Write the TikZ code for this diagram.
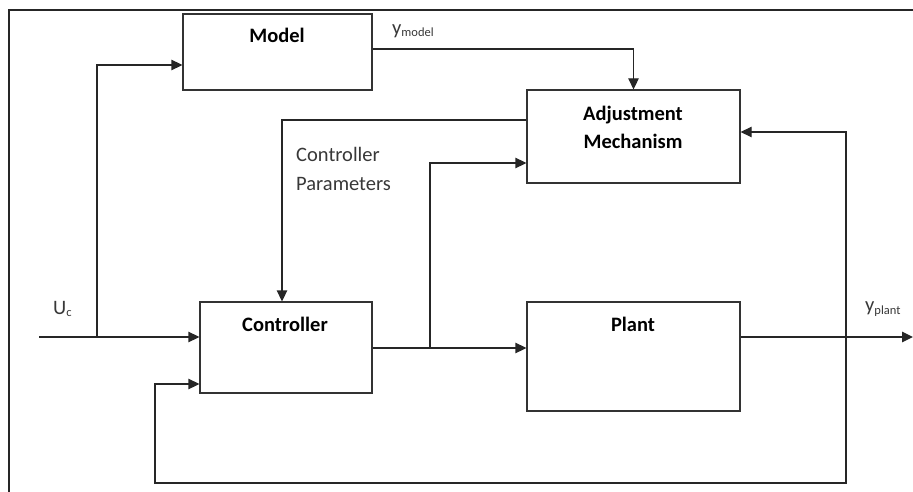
\documentclass[tikz,border=0pt]{standalone}
\usepackage{fontspec}
\setmainfont{Carlito}
\usetikzlibrary{calc,arrows.meta}
\tikzset{
  box/.style={draw=black!80, line width=1.3pt, fill=white, inner sep=0pt},
  arr/.style={draw=black!85, line width=1.3pt, -{Triangle[length=11pt,width=10.5pt]}},
  ln/.style={draw=black!85, line width=1.3pt},
  bold/.style={font=\fontsize{20.5}{28}\selectfont\bfseries, text=black, inner sep=0pt, align=center},
  reg/.style={font=\fontsize{20.5}{29}\selectfont, text=black!78, inner sep=0pt, align=left},
}
\newcommand{\subtxt}[1]{\raisebox{-2.5pt}{\fontsize{12.5}{12.5}\selectfont #1}}
\begin{document}
\begin{tikzpicture}[x=1pt,y=-1pt]
\useasboundingbox (0,0) rectangle (913,492);
% frame
\draw[line width=2pt, black!85] (9,495) -- (9,10) -- (916,10);
% boxes
\node[box, minimum width=189pt, minimum height=76pt] (model) at (277.5,52) {};
\node[box, minimum width=213pt, minimum height=93pt] (adj) at (633.5,136.5) {};
\node[box, minimum width=172pt, minimum height=91pt] (ctrl) at (286,347.5) {};
\node[box, minimum width=213pt, minimum height=109pt] (plant) at (633.5,356.5) {};
% box texts
\node[bold] (tmodel) at (277,35) {Model};
\node[bold] (tadj) at (633,127) {Adjustment\\Mechanism};
\node[bold] (tctrl) at (285,324) {Controller};
\node[bold] (tplant) at (633,324) {Plant};
% signal labels
\node[reg, anchor=west] (tpar) at (296,168.5) {Controller\\Parameters};
\node[reg, anchor=west] (tuc) at (53,309) {U\subtxt{c}};
\node[reg, anchor=west] (tym) at (392,31) {y\subtxt{model}};
\node[reg, anchor=west] (typ) at (865,309) {y\subtxt{plant}};
% coordinates
\coordinate (uin) at (39,337);
\coordinate (br1) at (97,337);
\coordinate (co) at ($(ctrl.east)+(0,0.5)$);
\coordinate (br2) at (430,348);
\coordinate (po) at ($(plant.east)+(0,-19.5)$);
\coordinate (yout) at (913,337);
\coordinate (fb) at (846,337);
\coordinate (bl) at (155,483);
% connectors
\draw[arr] (uin) -- (uin -| ctrl.west);
\draw[arr] (br1) |- ($(model.west)+(0,13)$);
\draw[arr] ($(model.east)+(0,-3)$) -| (adj.north);
\draw[arr] ($(adj.west)+(0,-16.5)$) -| ($(ctrl.north)+(-4,0)$);
\draw[arr] (co) -- (co -| plant.west);
\draw[arr] (br2) |- ($(adj.west)+(0,26.5)$);
\draw[arr] (po) -- (yout);
\draw[arr] (fb) |- ($(adj.east)+(0,-4.5)$);
\draw[arr] (fb) |- (bl) |- ($(ctrl.west)+(0,36.5)$);
\end{tikzpicture}
\end{document}
